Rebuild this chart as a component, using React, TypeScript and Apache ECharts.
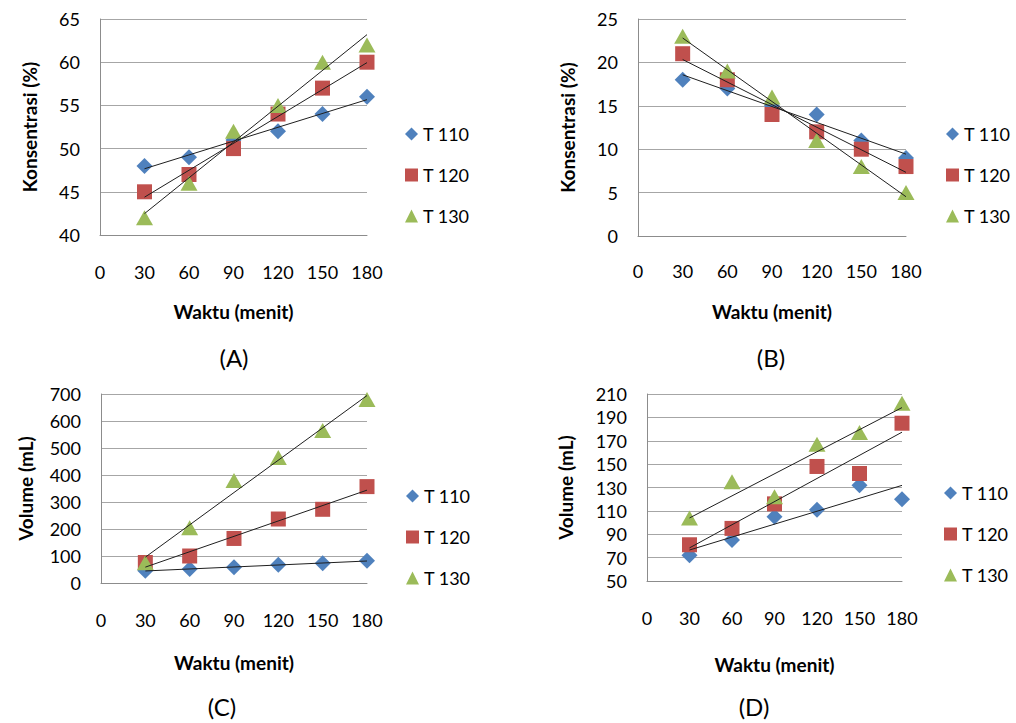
import React, { useEffect, useRef } from "react";
import * as echarts from "echarts";

const times = [30, 60, 90, 120, 150, 180];
const seriesNames = ["T 110", "T 120", "T 130"];

// (A) Konsentrasi
const aT110 = [48, 49, 51, 52, 54, 56];
const aT120 = [45, 47, 50, 54, 57, 60];
const aT130 = [42, 46, 52, 55, 60, 62];
// (B) Konsentrasi
const bT110 = [18, 17, 15, 14, 11, 9];
const bT120 = [21, 18, 14, 12, 10, 8];
const bT130 = [23, 19, 16, 11, 8, 5];
// (C) Volume
const cT110 = [45, 52, 58, 68, 73, 82];
const cT120 = [76, 100, 165, 237, 273, 357];
const cT130 = [75, 205, 380, 465, 565, 680];
// (D) Volume
const dT110 = [72, 85, 105, 111, 132, 120];
const dT120 = [81, 95, 116, 148, 142, 185];
const dT130 = [104, 135, 122, 167, 177, 202];

const xTitle = "Waktu (menit)";
const panelLabels = ["(A)", "(B)", "(C)", "(D)"];
const yTitles = ["Konsentrasi (%)", "Konsentrasi (%)", "Volume (mL)", "Volume (mL)"];
const yRanges = [
  [40, 65, 5],
  [0, 25, 5],
  [0, 700, 100],
  [50, 210, 20],
];

const COLORS = ["#4F81BD", "#C0504D", "#9BBB59"];
const SYMBOLS = ["diamond", "rect", "triangle"];
const SIZES: any[] = [16, 15, [17, 15]];
const FONT = "Lato";

function trend(xs: number[], ys: number[]) {
  const n = xs.length;
  const mx = xs.reduce((s, v) => s + v, 0) / n;
  const my = ys.reduce((s, v) => s + v, 0) / n;
  let sxy = 0;
  let sxx = 0;
  for (let i = 0; i < n; i++) {
    sxy += (xs[i] - mx) * (ys[i] - my);
    sxx += (xs[i] - mx) * (xs[i] - mx);
  }
  const b = sxy / sxx;
  const a = my - b * mx;
  const x0 = xs[0];
  const x1 = xs[n - 1];
  return [
    [x0, a + b * x0],
    [x1, a + b * x1],
  ];
}

const layout = [
  { grid: { left: 100, top: 19, width: 267, height: 216 }, legend: { left: 400, top: 120 }, label: [234, 357], yGap: 61, xMargin: 28, xGap: 67 },
  { grid: { left: 638, top: 19, width: 268, height: 217 }, legend: { left: 941, top: 120 }, label: [771, 357], yGap: 61, xMargin: 26, xGap: 66 },
  { grid: { left: 101, top: 394, width: 266, height: 189 }, legend: { left: 401, top: 482 }, label: [222, 706], yGap: 66, xMargin: 28, xGap: 70 },
  { grid: { left: 647, top: 394, width: 255, height: 187 }, legend: { left: 939, top: 479 }, label: [754, 706], yGap: 72, xMargin: 28, xGap: 74 },
];

export default function App() {
  const ref = useRef<HTMLDivElement>(null);
  useEffect(() => {
    if (!ref.current) return;
    const chart = echarts.init(ref.current, undefined, { renderer: "svg" });
    const panelData = [
      [aT110, aT120, aT130],
      [bT110, bT120, bT130],
      [cT110, cT120, cT130],
      [dT110, dT120, dT130],
    ];
    const grids: any[] = [];
    const xAxes: any[] = [];
    const yAxes: any[] = [];
    const legends: any[] = [];
    const series: any[] = [];
    const graphics: any[] = [];
    panelData.forEach((sets, p) => {
      const L = layout[p];
      grids.push({ ...L.grid, containLabel: false });
      xAxes.push({
        type: "value",
        gridIndex: p,
        min: 0,
        max: 180,
        interval: 30,
        name: xTitle,
        nameLocation: "middle",
        nameGap: L.xGap,
        nameTextStyle: { fontFamily: FONT, fontWeight: "bold", fontSize: 19, color: "#000" },
        axisLine: { show: true, lineStyle: { color: "#8c8c8c", width: 1 } },
        axisTick: { show: false },
        splitLine: { show: false },
        axisLabel: { margin: L.xMargin, fontFamily: FONT, fontSize: 18, color: "#000" },
      });
      const [ymin, ymax, yint] = yRanges[p];
      yAxes.push({
        type: "value",
        gridIndex: p,
        min: ymin,
        max: ymax,
        interval: yint,
        name: yTitles[p],
        nameLocation: "middle",
        nameGap: L.yGap,
        nameTextStyle: { fontFamily: FONT, fontWeight: "bold", fontSize: 19, color: "#000" },
        axisLine: { show: true, lineStyle: { color: "#8c8c8c", width: 1 } },
        axisTick: { show: false },
        splitLine: { show: true, lineStyle: { color: "#a6a6a6", width: 1 } },
        axisLabel: { margin: 20, fontFamily: FONT, fontSize: 18, color: "#000" },
      });
      legends.push({
        orient: "vertical",
        left: L.legend.left,
        top: L.legend.top,
        itemWidth: 13,
        itemHeight: 13,
        itemGap: 23,
        selectedMode: false,
        data: seriesNames,
        textStyle: { fontFamily: FONT, fontSize: 18, color: "#000", lineHeight: 18 },
      });
      sets.forEach((vals, s) => {
        series.push({
          type: "scatter",
          name: seriesNames[s],
          xAxisIndex: p,
          yAxisIndex: p,
          symbol: SYMBOLS[s],
          symbolSize: SIZES[s],
          itemStyle: { color: COLORS[s], opacity: 1 },
          z: 2 + s,
          data: times.map((t, i) => [t, vals[i]]),
        });
      });
      sets.forEach((vals, s) => {
        series.push({
          type: "line",
          name: "trend " + p + "-" + s,
          xAxisIndex: p,
          yAxisIndex: p,
          symbol: "none",
          silent: true,
          z: 10,
          lineStyle: { color: "#1f1f1f", width: 1 },
          data: trend(times, vals),
        });
      });
      graphics.push({
        type: "text",
        x: L.label[0],
        y: L.label[1],
        style: {
          text: panelLabels[p],
          fontFamily: FONT,
          fontSize: 24,
          fill: "#000",
          align: "center",
          verticalAlign: "middle",
        },
      });
    });
    chart.setOption({
      animation: false,
      backgroundColor: "#ffffff",
      grid: grids,
      xAxis: xAxes,
      yAxis: yAxes,
      legend: legends,
      series,
      graphic: graphics,
    });
    return () => chart.dispose();
  }, []);
  return (
    <div
      ref={ref}
      style={{ position: "fixed", left: 0, top: 0, width: 1016, height: 723, background: "#fff" }}
    />
  );
}
